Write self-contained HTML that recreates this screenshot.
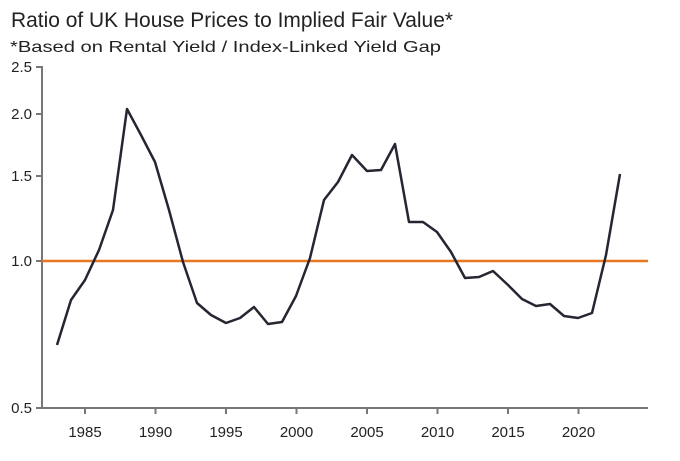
<!DOCTYPE html><html><head><style>body{margin:0;background:#fff}svg{display:block;font-family:"Liberation Sans",Arial,sans-serif}</style></head><body>
<svg width="680" height="461" viewBox="0 0 680 461">
<text x="11" y="27" font-size="21.5" fill="#222" textLength="442" lengthAdjust="spacingAndGlyphs">Ratio of UK House Prices to Implied Fair Value*</text>
<text x="10" y="52" font-size="16" fill="#222" textLength="431" lengthAdjust="spacingAndGlyphs">*Based on Rental Yield / Index-Linked Yield Gap</text>
<g stroke="#777" stroke-width="2" fill="none">
<line x1="42" y1="66" x2="42" y2="408"/><line x1="42" y1="408" x2="648" y2="408"/>
<line x1="36" y1="67" x2="42" y2="67"/><line x1="36" y1="114" x2="42" y2="114"/><line x1="36" y1="176" x2="42" y2="176"/><line x1="36" y1="261" x2="42" y2="261"/><line x1="36" y1="408" x2="42" y2="408"/>
<line x1="85" y1="408" x2="85" y2="414"/><line x1="155.5" y1="408" x2="155.5" y2="414"/><line x1="226" y1="408" x2="226" y2="414"/><line x1="296.5" y1="408" x2="296.5" y2="414"/><line x1="367" y1="408" x2="367" y2="414"/><line x1="437.5" y1="408" x2="437.5" y2="414"/><line x1="508" y1="408" x2="508" y2="414"/><line x1="578.5" y1="408" x2="578.5" y2="414"/>
</g>
<g font-size="15" fill="#222" text-anchor="end">
<text x="32" y="72">2.5</text><text x="32" y="119">2.0</text><text x="32" y="181">1.5</text><text x="32" y="266">1.0</text><text x="32" y="413">0.5</text>
</g>
<g font-size="15" fill="#222" text-anchor="middle">
<text x="85" y="437">1985</text><text x="155.5" y="437">1990</text><text x="226" y="437">1995</text><text x="296.5" y="437">2000</text><text x="367" y="437">2005</text><text x="437.5" y="437">2010</text><text x="508" y="437">2015</text><text x="578.5" y="437">2020</text>
</g>
<line x1="42" y1="261" x2="648" y2="261" stroke="#e87722" stroke-width="2.5"/>
<polyline fill="none" stroke="#262633" stroke-width="2.5" stroke-linejoin="round" points="57,345 71,300 85,280 99,250 113,210 127,109 141,135 155,162 169,210 183,262 197,303 211,315 226,323 240,318 254,307 268,324 282,322 296,296 310,258 324,200 338,182 352,155 367,171 381,170 395,144 409,222 423,222 437,232 451,252 465,278 479,277 493,271 508,285 522,299 536,306 550,304 564,316 578,318 592,313 606,255 620,174"/>
</svg>
</body></html>
